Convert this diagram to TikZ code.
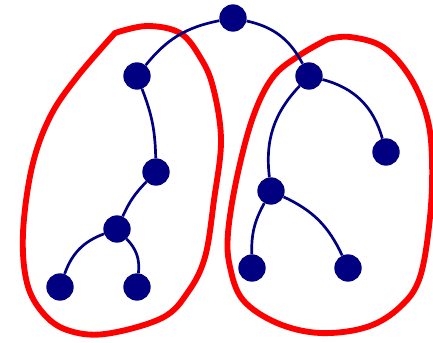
\documentclass[tikz,border=0pt]{standalone}
\definecolor{treenavy}{RGB}{0,0,128}
\definecolor{blobred}{RGB}{255,0,0}
\begin{document}
\begin{tikzpicture}[x=0.03cm, y=0.03cm,
    vert/.style={circle, fill=treenavy, inner sep=0pt, minimum size=0.82cm},
    edge/.style={draw=treenavy, line width=2.3pt},
    blob/.style={draw=blobred, line width=5pt, line join=round}]
            \useasboundingbox (0,0) rectangle (433,342);
            % the two groups
            \draw[blob] plot[smooth, tension=0.6] coordinates {(115,309) (147,316) (180,309) (200,285) (213,255) (221,202) (214,142) (205,85) (188,50) (162,24) (105,8) (67,12) (43,29) (27,59) (23,109) (32,175) (50,225) (77,265) (115,309)} -- cycle;
            \draw[blob] plot[smooth, tension=0.6] coordinates {(328,303) (350,305) (383,295) (410,265) (427,225) (432,182) (430,125) (420,65) (400,35) (367,15) (320,9) (277,19) (243,42) (230,75) (228,109) (237,165) (253,225) (273,265) (300,287) (328,303)} -- cycle;
            % the tree
            \node[vert] (root) at (233,324) {};
            \node[vert] (a) at (137,266) {};
            \node[vert] (b) at (309,266) {};
            \node[vert] (c) at (156,170) {};
            \node[vert] (d) at (117,113) {};
            \node[vert] (e) at (60,55) {};
            \node[vert] (f) at (137,55) {};
            \node[vert] (g) at (386,190) {};
            \node[vert] (h) at (271,151) {};
            \node[vert] (i) at (252,74) {};
            \node[vert] (j) at (348,74) {};
            \draw[edge] (a) to[bend left=20] (root);
            \draw[edge] (root) to[bend left=25] (b);
            \draw[edge] (a) to[bend left=10] (c);
            \draw[edge] (c) to[bend right=10] (d);
            \draw[edge] (d) to[bend right=25] (e);
            \draw[edge] (d) to[bend left=25] (f);
            \draw[edge] (b) to[bend left=30] (g);
            \draw[edge] (b) to[bend right=25] (h);
            \draw[edge] (h) to[bend right=15] (i);
            \draw[edge] (h) to[bend left=20] (j);
\end{tikzpicture}
\end{document}
